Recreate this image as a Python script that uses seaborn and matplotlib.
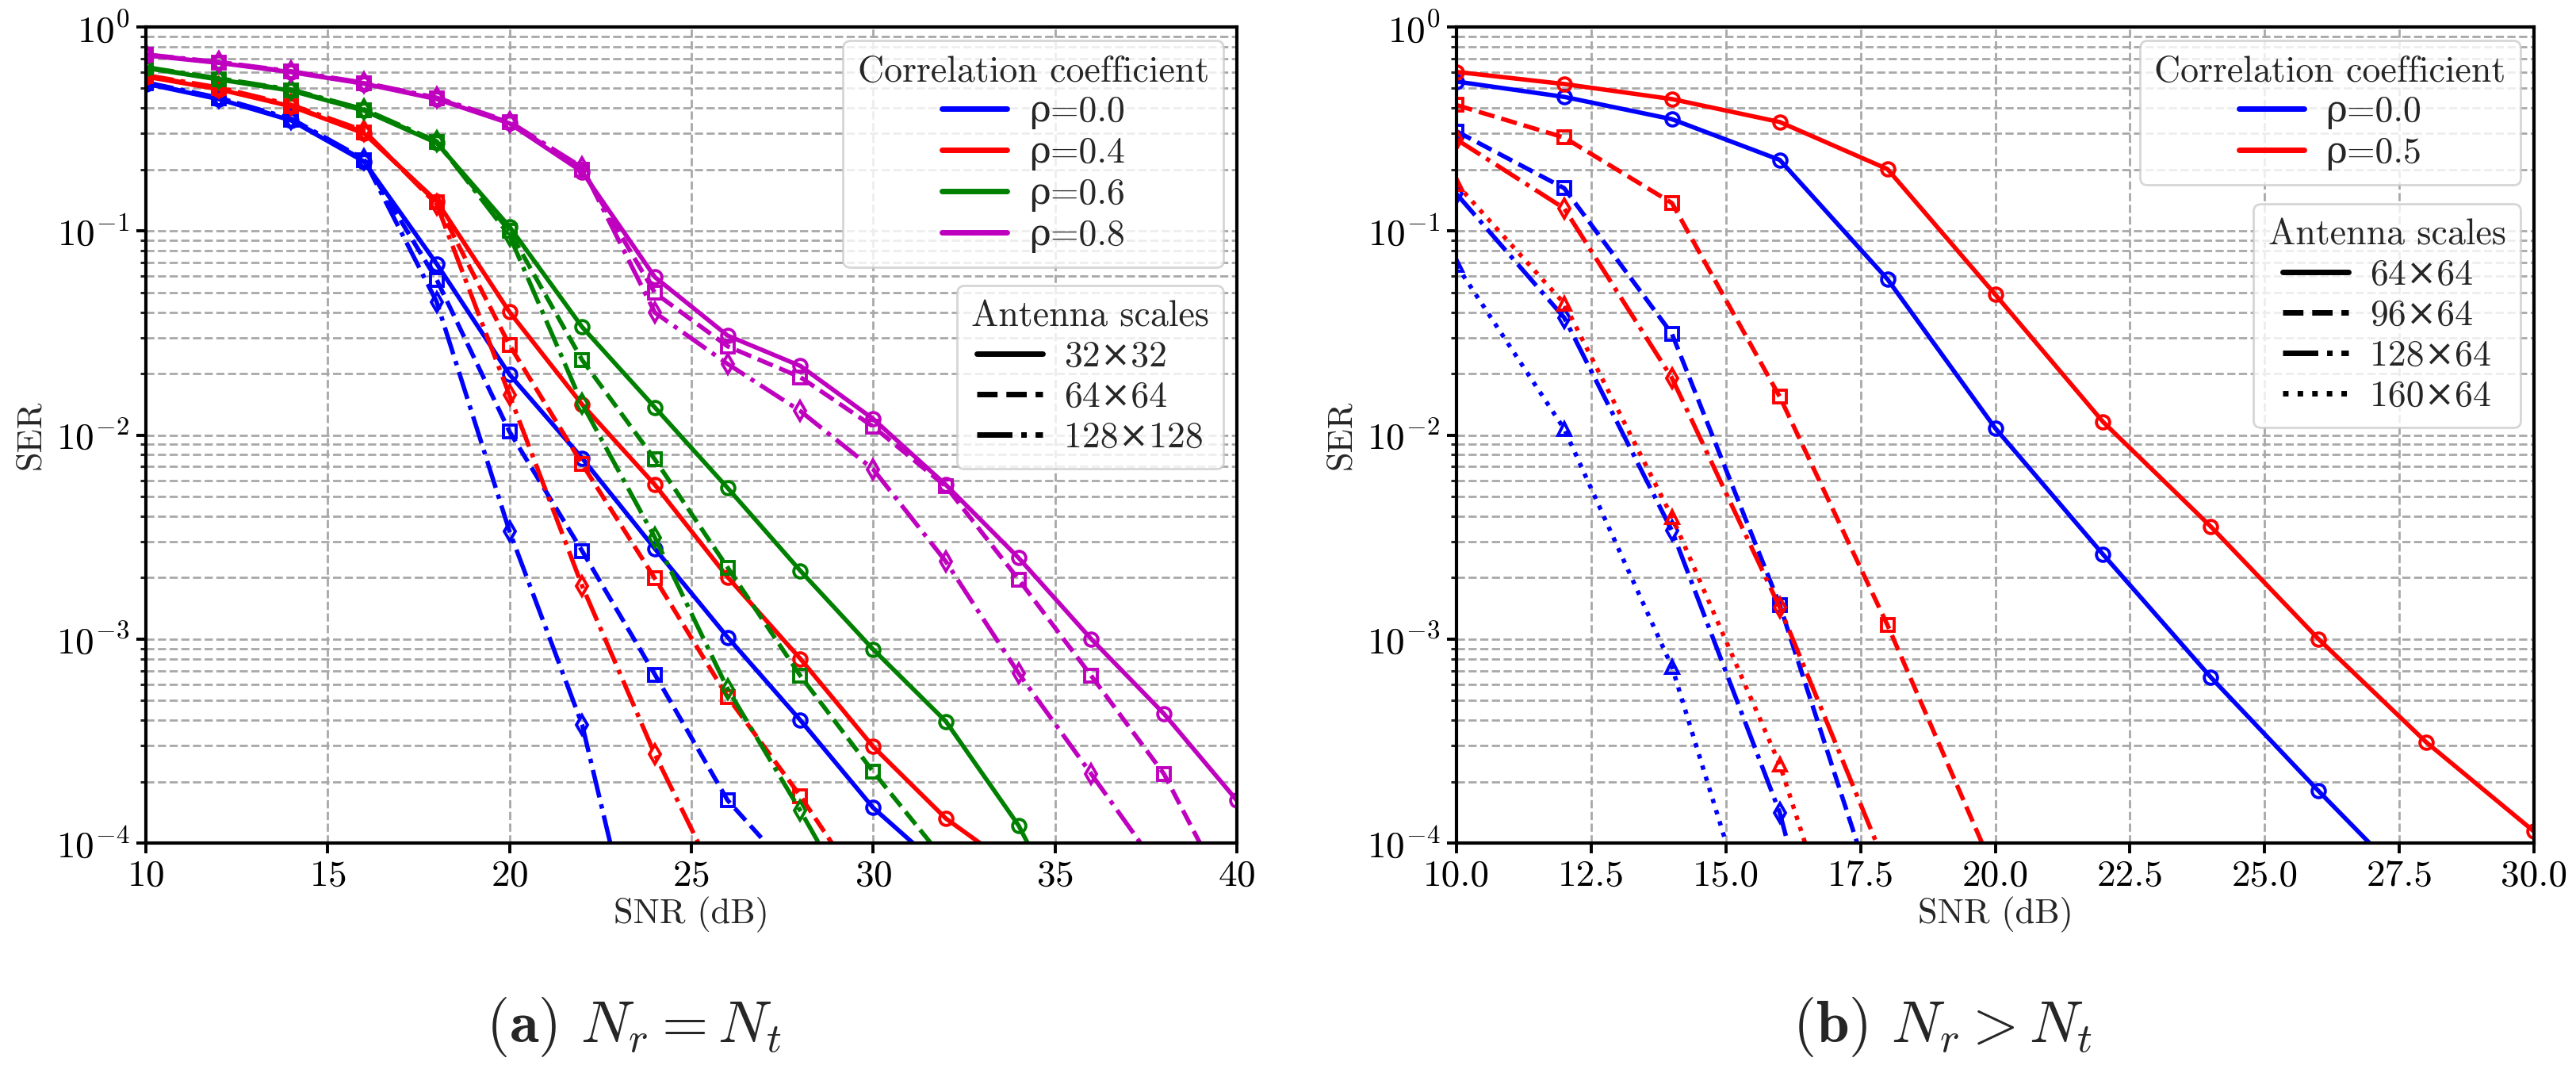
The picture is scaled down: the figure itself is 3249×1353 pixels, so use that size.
import matplotlib
matplotlib.use("Agg")
import matplotlib.pyplot as plt
from matplotlib.lines import Line2D
from matplotlib.ticker import LogLocator, NullFormatter, MultipleLocator, FormatStrFormatter
import numpy as np
import pandas as pd
import seaborn as sns

# ---- data: (a) Nr = Nt, SNR 10..40 dB step 2 ----
snr_a = [10, 12, 14, 16, 18, 20, 22, 24, 26, 28, 30, 32, 34, 36, 38, 40]

ser_a_r00_32 = [0.527, 0.443, 0.348, 0.219, 0.069, 0.0198, 0.0077, 0.00277, 1.02e-3, 4.0e-4, 1.49e-4, 7.2e-5]
ser_a_r00_64 = [0.530, 0.445, 0.350, 0.222, 0.0577, 0.0104, 2.7e-3, 6.7e-4, 1.62e-4, 6.5e-5]
ser_a_r00_128 = [0.535, 0.450, 0.355, 0.225, 0.0449, 3.38e-3, 3.8e-4, 1.2e-5]

ser_a_r04_32 = [0.571, 0.495, 0.408, 0.301, 0.140, 0.0401, 0.0141, 0.0057, 0.00201, 8.0e-4, 2.97e-4, 1.32e-4, 7.3e-5]
ser_a_r04_64 = [0.575, 0.500, 0.410, 0.305, 0.138, 0.0276, 7.2e-3, 1.98e-3, 5.2e-4, 1.70e-4, 5.0e-5]
ser_a_r04_128 = [0.580, 0.505, 0.415, 0.310, 0.135, 0.0157, 1.82e-3, 2.72e-4, 5.1e-5]

ser_a_r06_32 = [0.629, 0.553, 0.487, 0.389, 0.270, 0.105, 0.0338, 0.01365, 5.5e-3, 2.16e-3, 8.9e-4, 3.95e-4, 1.22e-4, 2.5e-5]
ser_a_r06_64 = [0.632, 0.556, 0.490, 0.392, 0.272, 0.100, 0.0233, 7.59e-3, 2.24e-3, 6.6e-4, 2.24e-4, 8.1e-5]
ser_a_r06_128 = [0.635, 0.560, 0.493, 0.395, 0.275, 0.095, 0.0142, 3.14e-3, 5.7e-4, 1.44e-4, 3.4e-5]

ser_a_r08_32 = [0.726, 0.667, 0.600, 0.527, 0.443, 0.337, 0.195, 0.0594, 0.0307, 0.0218, 0.0120, 0.0057, 0.0025, 1.0e-3, 4.3e-4, 1.62e-4]
ser_a_r08_64 = [0.730, 0.670, 0.603, 0.530, 0.446, 0.340, 0.200, 0.0497, 0.0272, 0.0192, 0.0110, 0.0056, 0.00196, 6.6e-4, 2.18e-4, 4.5e-5]
ser_a_r08_128 = [0.733, 0.673, 0.606, 0.533, 0.450, 0.343, 0.205, 0.0398, 0.0223, 0.0131, 0.0068, 0.0024, 6.8e-4, 2.18e-4, 6.9e-5]

rho_a = ["ρ=0.0", "ρ=0.4", "ρ=0.6", "ρ=0.8"]
scales_a = ["32×32", "64×64", "128×128"]

# ---- data: (b) Nr > Nt, SNR 10..30 dB step 2 ----
snr_b = [10, 12, 14, 16, 18, 20, 22, 24, 26, 28, 30]

ser_b_r00_64 = [0.540, 0.454, 0.353, 0.223, 0.058, 0.0108, 2.6e-3, 6.5e-4, 1.8e-4, 5.2e-5]
ser_b_r00_96 = [0.308, 0.162, 0.0313, 1.47e-3, 3.5e-5]
ser_b_r00_128 = [0.152, 0.0376, 3.39e-3, 1.41e-4, 1.4e-6]
ser_b_r00_160 = [0.068, 0.0107, 7.3e-4, 1.4e-5]

ser_b_r05_64 = [0.602, 0.525, 0.443, 0.342, 0.201, 0.0488, 0.0116, 3.56e-3, 1.0e-3, 3.12e-4, 1.14e-4]
ser_b_r05_96 = [0.414, 0.287, 0.137, 0.0154, 1.17e-3, 7.1e-5]
ser_b_r05_128 = [0.281, 0.129, 0.019, 1.43e-3, 7.4e-5]
ser_b_r05_160 = [0.170, 0.0441, 3.97e-3, 2.43e-4, 5.6e-6]

rho_b = ["ρ=0.0", "ρ=0.5"]
scales_b = ["64×64", "96×64", "128×64", "160×64"]

colors = ["b", "r", "g", "m"]
styles = ["-", "--", "-.", ":"]
markers = ["o", "s", "d", "^"]

series_a = [
    [ser_a_r00_32, ser_a_r00_64, ser_a_r00_128],
    [ser_a_r04_32, ser_a_r04_64, ser_a_r04_128],
    [ser_a_r06_32, ser_a_r06_64, ser_a_r06_128],
    [ser_a_r08_32, ser_a_r08_64, ser_a_r08_128],
]
series_b = [
    [ser_b_r00_64, ser_b_r00_96, ser_b_r00_128, ser_b_r00_160],
    [ser_b_r05_64, ser_b_r05_96, ser_b_r05_128, ser_b_r05_160],
]

sns.set_style("ticks")
plt.rcParams["font.family"] = ["cmr10", "DejaVu Serif"]
plt.rcParams["mathtext.fontset"] = "cm"
plt.rcParams["axes.formatter.use_mathtext"] = True
plt.rcParams["axes.unicode_minus"] = True

fig = plt.figure(figsize=(16.245, 6.765), dpi=200)
ax_a = fig.add_axes([0.0566, 0.2143, 0.4235, 0.7606])
ax_b = fig.add_axes([0.5654, 0.2143, 0.4183, 0.7606])


def draw_panel(ax, snr, series, rho_labels, scale_labels):
    for i, group in enumerate(series):
        for j, vals in enumerate(group):
            df = pd.DataFrame({"snr": snr[:len(vals)], "ser": vals})
            sns.lineplot(
                data=df, x="snr", y="ser", ax=ax, color=colors[i],
                linestyle=styles[j], marker=markers[j], markersize=6,
                markerfacecolor="none", markeredgecolor=colors[i],
                markeredgewidth=1.4, linewidth=2.0, sort=False,
                errorbar=None, legend=False,
            )
    ax.set_yscale("log")
    ax.set_ylim(1e-4, 1)
    ax.set_xlim(snr[0], snr[-1])
    ax.yaxis.set_major_locator(LogLocator(base=10, numticks=10))
    ax.yaxis.set_minor_locator(LogLocator(base=10, subs=np.arange(2, 10), numticks=20))
    ax.yaxis.set_minor_formatter(NullFormatter())
    ax.grid(True, which="major", color="#a8a8a8", linestyle="--", linewidth=1.0)
    ax.grid(True, which="minor", axis="y", color="#a8a8a8", linestyle="--", linewidth=1.0)
    ax.set_axisbelow(True)
    for s in ax.spines.values():
        s.set_linewidth(1.5)
        s.set_color("black")
    ax.tick_params(which="major", direction="out", length=4.5, width=1.4, labelsize=17,
                   top=False, right=False, colors="black", pad=3)
    ax.tick_params(which="minor", direction="out", length=2.5, width=1.1,
                   top=False, right=False)
    ax.set_xlabel("SNR (dB)", fontsize=16, labelpad=2)
    ax.set_ylabel("SER", fontsize=16, labelpad=4)

    rho_handles = [Line2D([], [], color=colors[i], lw=2.5) for i in range(len(rho_labels))]
    scale_handles = [Line2D([], [], color="black", lw=2.5, linestyle=styles[j])
                     for j in range(len(scale_labels))]
    return rho_handles, scale_handles


legend_kw = dict(fontsize=16.5, title_fontsize=16.5, handlelength=1.8, handletextpad=0.6,
                 labelspacing=0.2, borderpad=0.4, borderaxespad=0.0, framealpha=0.8,
                 edgecolor="0.8", fancybox=True, loc="upper right")

h_rho, h_sc = draw_panel(ax_a, snr_a, series_a, rho_a, scales_a)
ax_a.xaxis.set_major_locator(MultipleLocator(5))
leg1 = ax_a.legend(h_rho, rho_a, title="Correlation coefficient",
                   bbox_to_anchor=(0.988, 0.983), **legend_kw)
ax_a.add_artist(leg1)
ax_a.legend(h_sc, scales_a, title="Antenna scales",
            bbox_to_anchor=(0.988, 0.683), **legend_kw)

h_rho, h_sc = draw_panel(ax_b, snr_b, series_b, rho_b, scales_b)
ax_b.xaxis.set_major_locator(MultipleLocator(2.5))
ax_b.xaxis.set_major_formatter(FormatStrFormatter("%.1f"))
leg2 = ax_b.legend(h_rho, rho_b, title="Correlation coefficient",
                   bbox_to_anchor=(0.9875, 0.983), **legend_kw)
ax_b.add_artist(leg2)
ax_b.legend(h_sc, scales_b, title="Antenna scales",
            bbox_to_anchor=(0.9875, 0.783), **legend_kw)

fig.text(0.246, 0.043, r"($\mathbf{a}$) $N_r = N_t$", fontsize=27, ha="center", va="center")
fig.text(0.754, 0.043, r"($\mathbf{b}$) $N_r > N_t$", fontsize=27, ha="center", va="center")

fig.savefig("out.png", dpi=200)
